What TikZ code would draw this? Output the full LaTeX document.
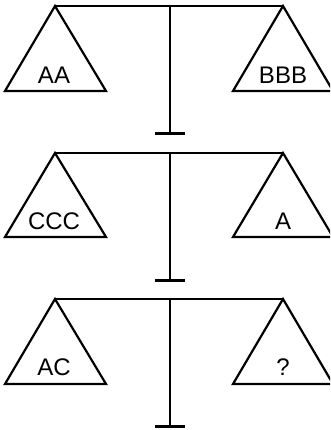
\documentclass[tikz,border=0pt]{standalone}
\usepackage{fontspec}
\setmainfont{Liberation Sans}
\begin{document}
\begin{tikzpicture}[x=1pt,y=-1pt,
  pan/.style={draw, line width=2.2pt, line join=miter},
  beam/.style={draw, line width=2.2pt},
  post/.style={draw, line width=2pt},
  foot/.style={draw, line width=3pt},
  lbl/.style={font=\fontsize{24}{24}\selectfont, inner sep=0pt}]
\useasboundingbox (0,0) rectangle (330,430);
\clip (0,0) rectangle (330,430);
\foreach \i/\by/\bs/\fy/\ty/\lt/\rt in {1/6/91/134/75/AA/BBB, 2/153/237/280/221/CCC/A, 3/299/384/426/367/AC/?}{
  \coordinate (la\i) at (55,\by);
  \coordinate (ra\i) at (283,\by);
  \coordinate (pt\i) at (170,\by);
  \coordinate (pb\i) at (170,\fy);
  \coordinate (fl\i) at (155,\fy);
  \coordinate (fr\i) at (185,\fy);
  \coordinate (lbl\i) at (5,\bs);
  \coordinate (lbr\i) at (106,\bs);
  \coordinate (rbl\i) at (233,\bs);
  \coordinate (rbr\i) at (333,\bs);
  \path[beam] (la\i) -- (ra\i);
  \path[post] (pt\i) -- (pb\i);
  \path[foot] (fl\i) -- (fr\i);
  \path[pan] (la\i) -- (lbl\i) -- (lbr\i) -- cycle;
  \path[pan] (ra\i) -- (rbl\i) -- (rbr\i) -- cycle;
  \node[lbl] (lt\i) at (54,\ty) {\lt};
  \node[lbl] (rt\i) at (283,\ty) {\rt};
}
\end{tikzpicture}
\end{document}
